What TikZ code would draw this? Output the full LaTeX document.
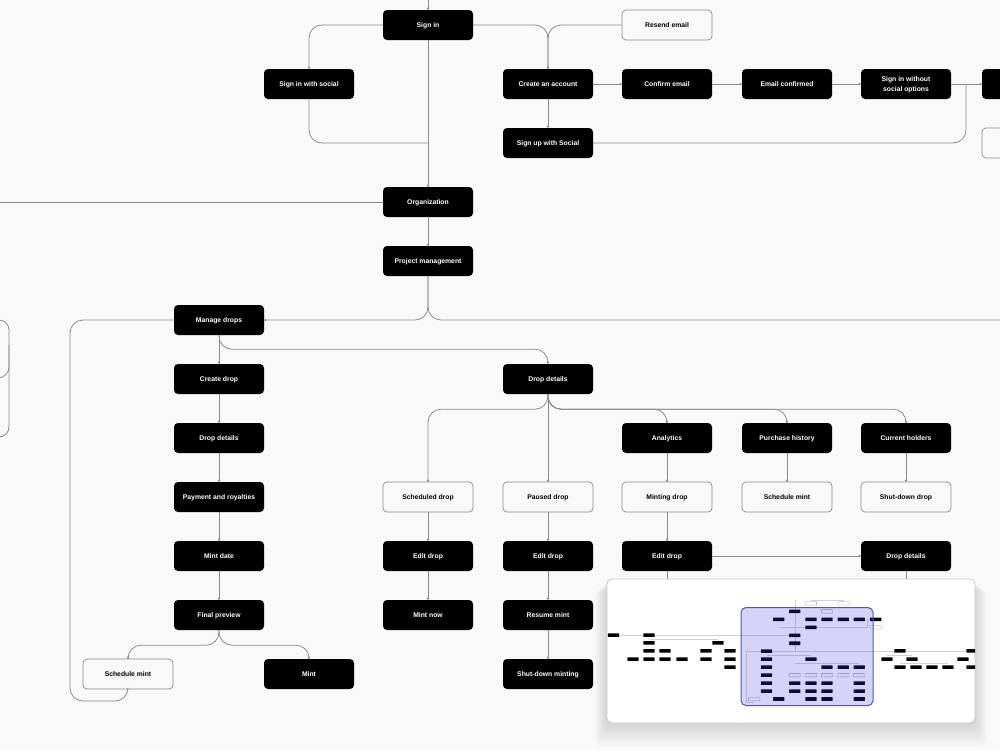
\documentclass[tikz,border=0pt]{standalone}
\usepackage{fontspec}
\setmainfont{Liberation Sans}
\usetikzlibrary{arrows.meta}

\definecolor{bgcol}{HTML}{F9F9F9}
\definecolor{linegray}{HTML}{8C8C8C}
\definecolor{boxgray}{HTML}{8A8A8A}
\definecolor{mapedge}{HTML}{C9C9C9}
\definecolor{viewblue}{HTML}{3C3CDC}
\definecolor{viewedge}{HTML}{5252CC}

\tikzset{
  blk/.style={rectangle, rounded corners=4pt, fill=black, text=white,
    minimum width=90pt, minimum height=30pt, inner sep=1pt, align=center,
    text height=5pt, text depth=0pt,
    font=\bfseries\fontsize{6.8}{10}\selectfont},
  wht/.style={blk, fill=bgcol, draw=boxgray, line width=0.7pt, text=black},
  link/.style={draw=linegray, line width=0.8pt, rounded corners=13pt},
  dot/.style={-{Circle[length=2.2pt]}},
  minibox/.style={fill=black, rounded corners=0.4pt},
  miniwht/.style={fill=white, draw=gray!80, line width=0.3pt, rounded corners=0.4pt},
  miniline/.style={draw=gray!35, line width=0.3pt},
}

\begin{document}
\begin{tikzpicture}[x=1pt, y=-1pt]
  \fill[bgcol] (0,0) rectangle (1000,750);
  \useasboundingbox (0,0) rectangle (1000,750);
  \clip (0,0) rectangle (1000,750);

  % Sign-in part
  \node[blk] (signin)    at (428,25)  {Sign in};
  \node[wht] (resend)    at (667,25)  {Resend email};
  \node[blk] (social)    at (309,84)  {Sign in with social};
  \node[blk] (create)    at (548,84)  {Create an account};
  \node[blk] (confirm)   at (667,84)  {Confirm email};
  \node[blk] (confirmed) at (787,84)  {Email confirmed};
  \node[blk, text height=15pt] (nosocial) at (906,84) {Sign in without\\social options};
  \node[blk] (next)      at (1027,84) {};
  \node[wht] (nextw)     at (1027,143) {};
  \node[blk] (signup)    at (548,143) {Sign up with Social};
  \node[blk] (org)       at (428,202) {Organization};
  \node[blk] (pm)        at (428,261) {Project management};
  \node[blk] (drops)     at (219,320) {Manage drops};

  % Create drop column
  \node[blk] (cdrop)    at (219,379) {Create drop};
  \node[blk] (cdetails) at (219,438) {Drop details};
  \node[blk] (pay)      at (219,497) {Payment and royalties};
  \node[blk] (mdate)    at (219,556) {Mint date};
  \node[blk] (preview)  at (219,615) {Final preview};
  \node[wht] (smint)    at (128,674) {Schedule mint};
  \node[blk] (mint)     at (309,674) {Mint};

  % Drop details tree
  \node[blk] (dd)        at (548,379) {Drop details};
  \node[wht] (sched)     at (428,497) {Scheduled drop};
  \node[wht] (paused)    at (548,497) {Paused drop};
  \node[blk] (analytics) at (667,438) {Analytics};
  \node[blk] (history)   at (787,438) {Purchase history};
  \node[blk] (holders)   at (906,438) {Current holders};
  \node[wht] (minting)   at (667,497) {Minting drop};
  \node[wht] (hmint)     at (787,497) {Schedule mint};
  \node[wht] (hshut)     at (906,497) {Shut-down drop};
  \node[blk] (edita)     at (428,556) {Edit drop};
  \node[blk] (editb)     at (548,556) {Edit drop};
  \node[blk] (editc)     at (667,556) {Edit drop};
  \node[blk] (details2)  at (906,556) {Drop details};
  \node[blk] (mintnow)   at (428,615) {Mint now};
  \node[blk] (resume)    at (548,615) {Resume mint};
  \node[blk] (shutmint)  at (548,674) {Shut-down minting};

  % free ends
  \coordinate (topin)    at (428,0);
  \coordinate (socialin) at (428,143);
  \coordinate (signupup) at (966,84);
  \coordinate (orgout)   at (0,202);
  \coordinate (pmout)    at (1000,320);
  \coordinate (loop)     at (70,701);
  \coordinate (editout)  at (667,600);
  \coordinate (ddout)    at (906,600);

  % connectors
  \draw[link, dot] (topin) -- (signin);
  \draw[link, dot] (signin.west) -| (social.north);
  \draw[link] (social.south) |- (socialin);
  \draw[link, dot] (signin) -- (org);
  \draw[link, dot] (signin.east) -| (create.north);
  \draw[link] (resend.west) -| (create.north);
  \draw[link, dot] (create) -- (confirm);
  \draw[link, dot] (confirm) -- (confirmed);
  \draw[link, dot] (confirmed) -- (nosocial);
  \draw[link, dot] (nosocial) -- (next);
  \draw[link, dot] (create) -- (signup);
  \draw[link] (signup.east) -| (signupup);
  \draw[link] (org.west) -- (orgout);
  \draw[link, dot] (org) -- (pm);
  \draw[link, dot] (pm.south) |- (drops.east);
  \draw[link] (pm.south) |- (pmout);
  \draw[link] (drops.west) -| (loop) -| (smint.south);
  \draw[link, dot] (drops) -- (cdrop);
  \draw[link, dot] (drops.south) -- ++(0,14) -| (dd.north);

  \draw[link, dot] (cdrop) -- (cdetails);
  \draw[link, dot] (cdetails) -- (pay);
  \draw[link, dot] (pay) -- (mdate);
  \draw[link, dot] (mdate) -- (preview);
  \draw[link, dot] (preview.south) -- ++(0,15) -| (smint.north);
  \draw[link, dot] (preview.south) -- ++(0,15) -| (mint.north);

  \draw[link, dot] (dd.south) -- ++(0,15) -| (sched.north);
  \draw[link, dot] (dd) -- (paused);
  \draw[link, dot] (dd.south) -- ++(0,15) -| (analytics.north);
  \draw[link, dot] (dd.south) -- ++(0,15) -| (history.north);
  \draw[link, dot] (dd.south) -- ++(0,15) -| (holders.north);
  \draw[link, dot] (analytics) -- (minting);
  \draw[link, dot] (history) -- (hmint);
  \draw[link, dot] (holders) -- (hshut);
  \draw[link, dot] (sched) -- (edita);
  \draw[link, dot] (edita) -- (mintnow);
  \draw[link, dot] (paused) -- (editb);
  \draw[link, dot] (editb) -- (resume);
  \draw[link, dot] (resume) -- (shutmint);
  \draw[link, dot] (minting) -- (editc);
  \draw[link, dot] (editc) -- (details2);
  \draw[link] (editc) -- (editout);
  \draw[link] (details2) -- (ddout);

  % branches coming in from the left edge
  \draw[link, rounded corners=10pt] (-10,320) -| (9,437) -- (-10,437);
  \draw[link, rounded corners=11pt] (9,345) |- (-10,378);

  % minimap
  \foreach \s in {1,...,12}
    \fill[black, opacity=0.01, rounded corners=6pt]
      (607-\s,579+\s) rectangle (975+\s,723+2*\s);
  \node[rectangle, rounded corners=5pt, fill=white, draw=mapedge, line width=0.8pt,
    minimum width=368pt, minimum height=144pt, inner sep=0pt] (map) at (791,651) {};
  \begin{scope}
    \clip[rounded corners=5pt] (607,579) rectangle (975,723);
    \begin{scope}[shift={(737,608)}, scale=0.135]
      \draw[miniline] (-915,202) -- (428,202);
      \draw[miniline] (428,-60) -- (428,320);
      \draw[miniline] (70,320) -- (1800,320) (70,320) -- (70,701) -- (128,701);
      \draw[miniline] (219,349) -- (548,349) (428,409) -- (906,409);
      \draw[miniline] (309,143) -- (966,143) -- (966,84);
      \draw[miniline] (546,-60) -- (790,-60) (-652,230) -- (-141,230);
      \draw[miniline] (1111,350) -- (1296,350) (1207,408) -- (1563,408);
      \foreach \x/\y in {428/25, 309/84, 548/84, 667/84, 787/84, 906/84, 1027/84,
          548/143, 428/202, 428/261, 219/320, 219/379, 548/379, 219/438,
          667/438, 787/438, 906/438, 219/497, 219/556, 428/556, 548/556,
          667/556, 906/556, 219/615, 428/615, 548/615, 667/615, 906/615,
          309/674, 548/674, 667/674, 906/674,
          -915/200, -652/200, -652/259, -652/318, -533/318, -770/378, -652/378,
          -533/378, -407/378, -230/318, -141/259, -230/378, -52/318, -52/378,
          -52/437, 1207/318, 1111/378, 1296/378, 1207/437, 1326/437, 1444/437,
          1563/437, 1674/378, 1741/318, 1741/437}
        \fill[minibox] (\x-42,\y-13) rectangle (\x+42,\y+13);
      \foreach \x/\y in {667/25, 1027/143, 428/497, 548/497, 667/497, 787/497,
          906/497, 128/674, 546/-35, 790/-35}
        \filldraw[miniwht] (\x-42,\y-13) rectangle (\x+42,\y+13);
    \end{scope}
  \end{scope}
  \node[rectangle, rounded corners=5pt, fill=viewblue, fill opacity=0.22,
    draw=viewedge, line width=1pt, minimum width=132pt, minimum height=98pt,
    inner sep=0pt] (view) at (807,656.5) {};
\end{tikzpicture}
\end{document}
